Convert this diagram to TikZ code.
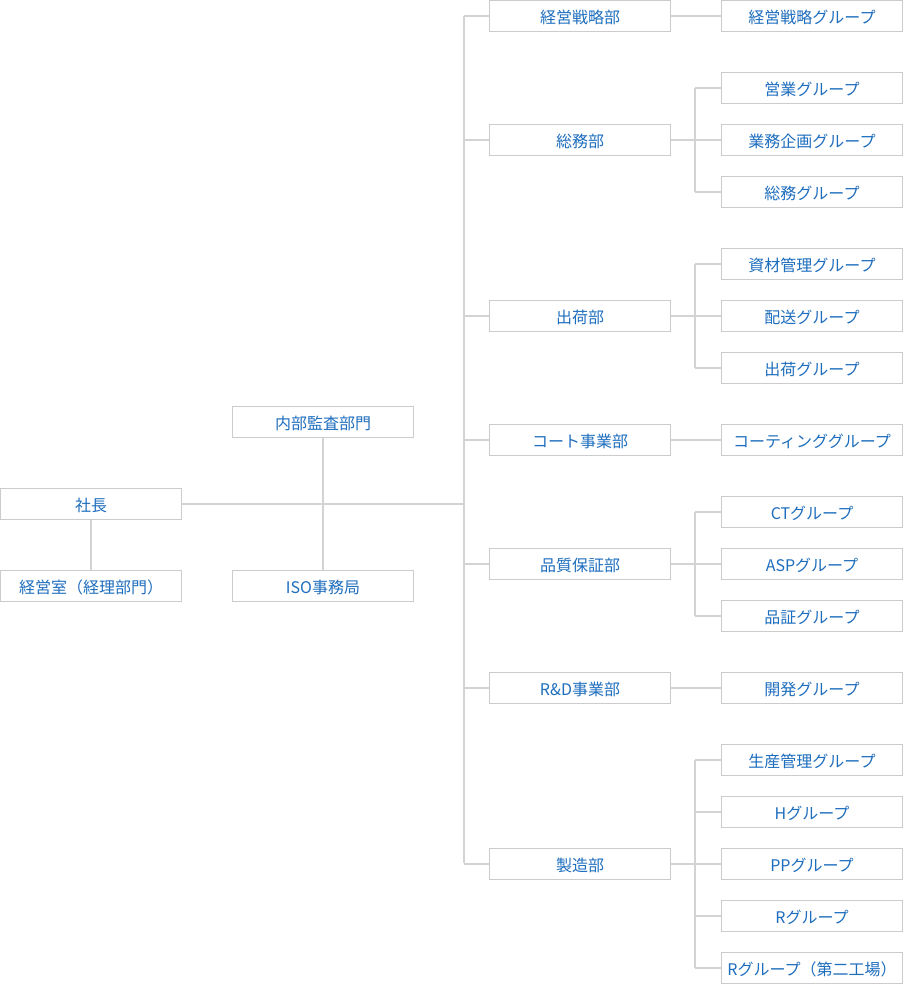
\documentclass[tikz,border=0pt]{standalone}
\usepackage{fontspec}
\setmainfont{Noto Sans CJK JP}
\definecolor{txtblue}{HTML}{1E6EBE}
\definecolor{boxgray}{HTML}{CCCCCC}
\definecolor{linegray}{HTML}{D3D3D3}
\begin{document}
\begin{tikzpicture}[x=1pt,y=-1pt,
  orgbox/.style={draw=boxgray,line width=1pt,fill=white,minimum width=181pt,minimum height=31pt,inner sep=0pt,text height=16pt,text depth=1pt,text=txtblue,font=\fontsize{16}{18}\selectfont},
  conn/.style={draw=linegray,line width=1.1pt}]
\useasboundingbox (0,0) rectangle (903,984);
% coordinates for trunks
\coordinate (t1) at (464,16);
\coordinate (t2) at (464,863);
\coordinate (gx) at (695,0);
% left part
\node[orgbox] (ceo) at (91,504) {社長};
\node[orgbox] (keiei) at (91,586) {経営室（経理部門）};
\node[orgbox] (audit) at (323,422) {内部監査部門};
\node[orgbox] (iso) at (323,586) {ISO事務局};
% departments
\node[orgbox] (d1) at (580,16) {経営戦略部};
\node[orgbox] (d2) at (580,140) {総務部};
\node[orgbox] (d3) at (580,316) {出荷部};
\node[orgbox] (d4) at (580,440) {コート事業部};
\node[orgbox] (d5) at (580,564) {品質保証部};
\node[orgbox] (d6) at (580,688) {R\&D事業部};
\node[orgbox] (d7) at (580,864) {製造部};
% groups
\node[orgbox] (g11) at (812,16) {経営戦略グループ};
\node[orgbox] (g21) at (812,88) {営業グループ};
\node[orgbox] (g22) at (812,140) {業務企画グループ};
\node[orgbox] (g23) at (812,192) {総務グループ};
\node[orgbox] (g31) at (812,264) {資材管理グループ};
\node[orgbox] (g32) at (812,316) {配送グループ};
\node[orgbox] (g33) at (812,368) {出荷グループ};
\node[orgbox] (g41) at (812,440) {コーティンググループ};
\node[orgbox] (g51) at (812,512) {CTグループ};
\node[orgbox] (g52) at (812,564) {ASPグループ};
\node[orgbox] (g53) at (812,616) {品証グループ};
\node[orgbox] (g61) at (812,688) {開発グループ};
\node[orgbox] (g71) at (812,760) {生産管理グループ};
\node[orgbox] (g72) at (812,812) {Hグループ};
\node[orgbox] (g73) at (812,864) {PPグループ};
\node[orgbox] (g74) at (812,916) {Rグループ};
\node[orgbox] (g75) at (812,968) {Rグループ（第二工場）};
% connectors
\draw[conn] (ceo.south) -- (keiei.north);
\draw[conn] (audit.south) -- (iso.north);
\draw[conn] (ceo.east) -- (ceo.east -| t1);
\draw[conn] (t1) -- (t2);
\foreach \d in {d1,d2,d3,d4,d5,d6,d7} {
  \draw[conn] (\d.west) -- (\d.west -| t1);
}
% single-group departments
\draw[conn] (d1.east) -- (g11.west);
\draw[conn] (d4.east) -- (g41.west);
\draw[conn] (d6.east) -- (g61.west);
% multi-group departments
\draw[conn] (d2.east) -- (d2.east -| gx);
\draw[conn] (g21.west -| gx) -- (g23.west -| gx);
\foreach \g in {g21,g22,g23} {\draw[conn] (\g.west) -- (\g.west -| gx);}
\draw[conn] (d3.east) -- (d3.east -| gx);
\draw[conn] (g31.west -| gx) -- (g33.west -| gx);
\foreach \g in {g31,g32,g33} {\draw[conn] (\g.west) -- (\g.west -| gx);}
\draw[conn] (d5.east) -- (d5.east -| gx);
\draw[conn] (g51.west -| gx) -- (g53.west -| gx);
\foreach \g in {g51,g52,g53} {\draw[conn] (\g.west) -- (\g.west -| gx);}
\draw[conn] (d7.east) -- (d7.east -| gx);
\draw[conn] (g71.west -| gx) -- (g75.west -| gx);
\foreach \g in {g71,g72,g73,g74,g75} {\draw[conn] (\g.west) -- (\g.west -| gx);}
\end{tikzpicture}
\end{document}
